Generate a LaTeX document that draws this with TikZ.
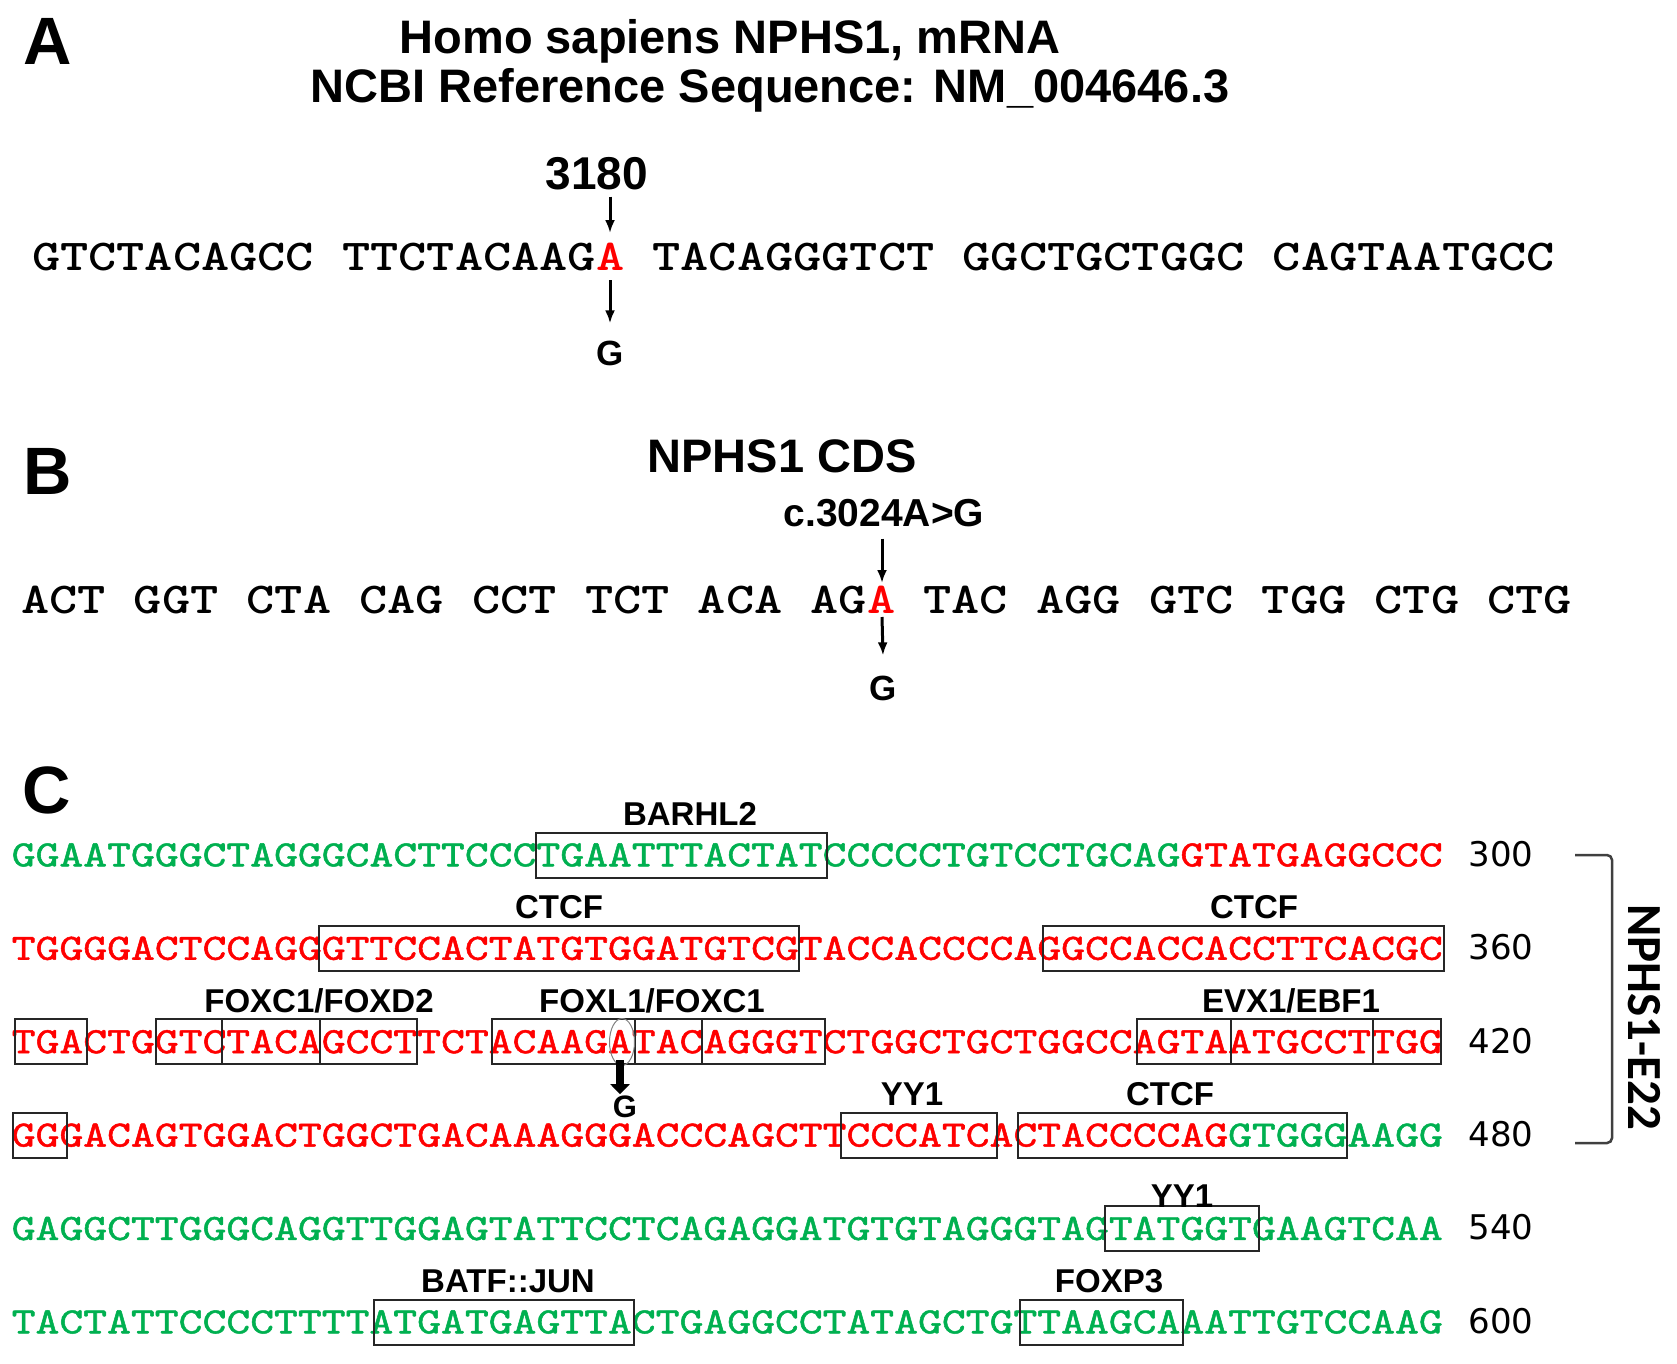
\documentclass[tikz,border=0pt]{standalone}
\usepackage{fontspec}
\usepackage{graphicx}
\usetikzlibrary{arrows.meta,calc}
\newfontfamily\arialfont{Liberation Sans}
\newfontfamily\dejafont{DejaVu Sans}
\newfontfamily\calfont{Carlito}
\newfontfamily\lmtfont{lmmono10-regular}[Extension=.otf,FakeBold=1.2]
\newcommand{\fsz}[1]{\fontsize{#1}{#1}\selectfont}
\newcommand{\cw}{23.85}
\newcommand{\xo}{11.5}
\definecolor{zold}{RGB}{0,176,80}
\definecolor{piros}{RGB}{255,0,0}
\newcommand{\szab}[1]{\scalebox{1}[0.82]{\ttfamily\bfseries\fsz{53.71}#1}}
\newcommand{\szc}[1]{\scalebox{1}[0.818]{\lmtfont\fsz{45.43}#1}}
\tikzset{
  jel/.style={font=\arialfont\bfseries\fsz{67},anchor=base,inner sep=0pt},
  cim/.style={font=\arialfont\bfseries\fsz{47},anchor=base,inner sep=0pt},
  pozicio/.style={font=\arialfont\bfseries\fsz{46},anchor=base,inner sep=0pt},
  csere/.style={font=\arialfont\bfseries\fsz{35},anchor=base,inner sep=0pt},
  szekv/.style={anchor=base west,inner sep=0pt},
  szam/.style={font=\dejafont\fsz{34},anchor=base,inner sep=0pt},
  motivum/.style={font=\arialfont\bfseries\fsz{33},anchor=base,inner sep=0pt},
  keret/.style={draw=black!85,line width=2pt},
  mutnyil/.style={-{Latex[length=13pt,width=10pt]},line width=3pt},
  vastagnyil/.style={-{Triangle[length=10pt,width=19pt]},line width=8pt},
  zarojel/.style={draw=black!75,line width=2.5pt,rounded corners=5pt},
}
\begin{document}
\begin{tikzpicture}[x=1pt,y=-1pt]
  \useasboundingbox (0,0) rectangle (1677,1363);
  % A
  \node[jel] (tA) at (48,64) {A};
  \node[cim] (cim1) at (730,53.5) {Homo sapiens NPHS1, mRNA};
  \node[cim] (cim2) at (770,102.7) {NCBI Reference Sequence: NM\_004646.3};
  \node[pozicio] (pos) at (597,189) {3180};
  \node[szekv] (szA) at (32,270.5) {\szab{GTCTACAGCC TTCTACAAG\textcolor{piros}{A} TACAGGGTCT GGCTGCTGGC CAGTAATGCC}};
  \coordinate (mutA) at (610,257);
  \node[csere] (gA) at (610,365) {G};
  \draw[mutnyil] ($(pos.south -| mutA)+(0,7)$) -- ($(mutA)+(0,-24)$);
  \draw[mutnyil] ($(mutA)+(0,23)$) -- ($(gA.north)+(0,-17)$);
  % B
  \node[jel] (tB) at (48,494) {B};
  \node[cim] (cim3) at (782,472.7) {NPHS1 CDS};
  \node[csere,font=\arialfont\bfseries\fsz{39}] (cpos) at (884,526) {c.3024A>G};
  \node[szekv] (szB) at (21,613) {\szab{ACT GGT CTA CAG CCT TCT ACA AG\textcolor{piros}{A} TAC AGG GTC TGG CTG CTG}};
  \coordinate (mutB) at (882,600);
  \node[csere] (gB) at (883,700) {G};
  \draw[mutnyil] ($(cpos.south -| mutB)+(0,12)$) -- ($(mutB)+(0,-17)$);
  \draw[mutnyil] ($(mutB)+(0,17)$) -- ($(gB.north)+(0,-20)$);
  % C
  \node[jel] (tC) at (47,813) {C};
  \node[szekv] (s300) at (\xo,866.35) {\szc{\textcolor{zold}{GGAATGGGCTAGGGCACTTCCCTGAATTTACTATCCCCCTGTCCTGCAG}\textcolor{piros}{GTATGAGGCCC}}};
  \node[szekv] (s360) at (\xo,959.75) {\szc{\textcolor{piros}{TGGGGACTCCAGGGTTCCACTATGTGGATGTCGTACCACCCCAGGCCACCACCTTCACGC}}};
  \node[szekv] (s420) at (\xo,1053.15) {\szc{\textcolor{piros}{TGACTGGTCTACAGCCTTCTACAAGATACAGGGTCTGGCTGCTGGCCAGTAATGCCTTGG}}};
  \node[szekv] (s480) at (\xo,1146.55) {\szc{\textcolor{piros}{GGGACAGTGGACTGGCTGACAAAGGGACCCAGCTTCCCATCACTACCCCAG}\textcolor{zold}{GTGGGAAGG}}};
  \node[szekv] (s540) at (\xo,1239.95) {\szc{\textcolor{zold}{GAGGCTTGGGCAGGTTGGAGTATTCCTCAGAGGATGTGTAGGGTAGTATGGTGAAGTCAA}}};
  \node[szekv] (s600) at (\xo,1333.35) {\szc{\textcolor{zold}{TACTATTCCCCTTTTATGATGAGTTACTGAGGCCTATAGCTGTTAAGCAAATTGTCCAAG}}};
  \node[szam] (n300) at (1501,866.35) {300};
  \node[szam] (n360) at (1501,959.75) {360};
  \node[szam] (n420) at (1501,1053.15) {420};
  \node[szam] (n480) at (1501,1146.55) {480};
  \node[szam] (n540) at (1501,1239.95) {540};
  \node[szam] (n600) at (1501,1333.35) {600};
  \foreach \r/\a/\b in {0/22/34.2, 1/12.9/33, 1/43.25/60.05, 2/0.15/3.17, 2/6.06/8.83, 2/8.83/12.94,
      2/12.94/17, 2/20.15/26.14, 2/26.14/28.95, 2/28.95/34.11, 2/47.19/51.13, 2/51.13/57.1,
      2/57.1/59.95, 3/0.07/2.33, 3/34.8/41.3, 3/42.2/56, 4/45.85/52.3, 5/15.2/26.1, 5/42.3/49.1}
    \draw[keret] ({\xo+\a*\cw},{855+93.4*\r-22.5}) rectangle ({\xo+\b*\cw},{855+93.4*\r+22.5});
  \node[motivum] (m1) at (690,825.25) {BARHL2};
  \node[motivum] (m2) at (559,918.65) {CTCF};
  \node[motivum] (m3) at (1254,918.65) {CTCF};
  \node[motivum] (m4) at (319,1012.05) {FOXC1/FOXD2};
  \node[motivum] (m5) at (652,1012.05) {FOXL1/FOXC1};
  \node[motivum] (m6) at (1291,1012.05) {EVX1/EBF1};
  \node[motivum] (m7) at (912,1105.45) {YY1};
  \node[motivum] (m8) at (1170,1105.45) {CTCF};
  \node[motivum] (m9) at (1182,1207.85) {YY1};
  \node[motivum] (m10) at (508,1292.25) {BATF::JUN};
  \node[motivum] (m11) at (1109,1292.25) {FOXP3};
  \coordinate (mutC) at (620,1042);
  \draw[gray,line width=1pt] (622,1042) ellipse [x radius=12.5,y radius=23.5];
  \node[csere,font=\arialfont\bfseries\fsz{31}] (gC) at (625,1117) {G};
  \draw[vastagnyil] ($(mutC)+(0,18)$) -- ($(gC.north -| mutC)+(0,-1)$);
  \coordinate (kfel) at (1575,855);
  \coordinate (kle) at (1575,1143);
  \draw[zarojel] (kfel) -- (1612,855) -- (1612,1143) -- (kle);
  \node[font=\calfont\bfseries\fsz{49},rotate=-90,inner sep=0pt] (e22) at (1644,1017) {NPHS1-E22};
\end{tikzpicture}
\end{document}
